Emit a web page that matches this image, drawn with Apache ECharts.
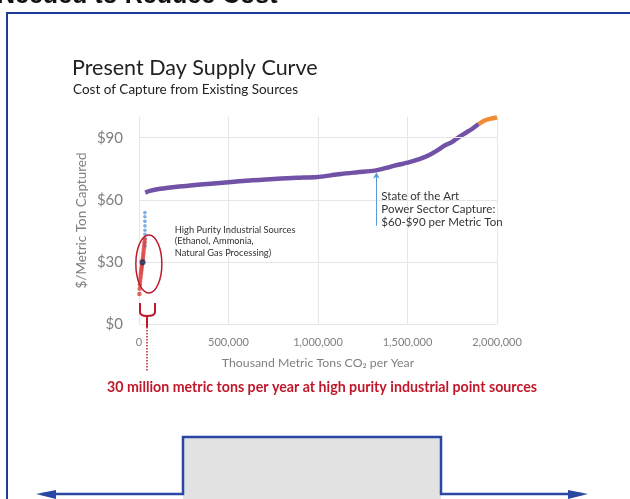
<!DOCTYPE html>
<html>
<head>
<meta charset="utf-8">
<script src="https://cdn.jsdelivr.net/npm/echarts@6/dist/echarts.min.js"></script>
<style>
html,body{margin:0;padding:0;background:#fff;}
#c{width:630px;height:499px;}
</style>
</head>
<body>
<div id="c"></div>
<script>
// ---- data ----
const yTicks = [0, 30, 60, 90];
const xTicks = [0, 500000, 1000000, 1500000, 2000000];

// Power sector supply curve (purple)
const powerX = [35000, 60000, 118000, 200000, 286000, 400000, 500000, 620000, 754000, 880000, 998000, 1070000, 1129000, 1220000, 1316000, 1380000, 1427000, 1511000, 1570000, 1616000, 1660000, 1708000, 1750000, 1785000, 1830000, 1860000, 1897000];
const powerY = [63.5, 64.3, 65.3, 66.2, 66.9, 67.8, 68.5, 69.3, 70.1, 70.6, 71.0, 71.8, 72.5, 73.3, 74.1, 75.4, 76.5, 78.2, 79.8, 81.4, 83.5, 86.2, 88.0, 90.2, 92.6, 94.2, 96.6];

// Highest cost tail (orange)
const tailX = [1897000, 1930000, 1960000, 2000000];
const tailY = [96.6, 98.3, 99.1, 99.8];

// High purity industrial sources (red)
const industrialX = [2000, 3500, 5000, 6500, 8000, 9500, 11000, 12500, 14000, 15500, 17000, 18500, 20000, 21500, 23000, 24500, 26000, 27500, 29000, 30500, 32000];
const industrialY = [14.5, 17, 19, 20.5, 22, 23.3, 24.5, 25.6, 26.6, 27.6, 28.6, 29.6, 30.6, 31.7, 32.8, 34, 35.3, 36.6, 38, 39.4, 40.8];

// Other high purity sources (light blue)
const otherX = [33000, 33000, 33000, 33000, 33000, 33000, 33000, 33000, 33000];
const otherY = [53.8, 51.8, 49.6, 47.4, 45.3, 43.3, 41.4, 39.4, 37.6];

// Highlighted source (dark navy)
const highlightX = [20000];
const highlightY = [29.8];

// annotation anchors (data coordinates)
const arrowX = 1326000, arrowFrom = 47.5, arrowTo = 73.2;
const powerNote = ['State of the Art', 'Power Sector Capture:', '$60-$90 per Metric Ton'];
const powerNoteAt = [1354000, 65];
const industryNote = ['High Purity Industrial Sources', '(Ethanol, Ammonia,', 'Natural Gas Processing)'];
const industryNoteAt = [200000, 48];
const ellipseAt = [55000, 29];

const zip = (a, b) => a.map((v, i) => [v, b[i]]);
const FONT = 'Lato';

const chart = echarts.init(document.getElementById('c'), null, {renderer: 'canvas'});

const option = {
  animation: false,
  backgroundColor: '#ffffff',
  textStyle: {fontFamily: FONT},
  title: [
    {text: 'Present Day Supply Curve', left: 67, top: 52, padding: 5,
     textStyle: {fontFamily: FONT, fontSize: 21.5, fontWeight: 'normal', color: '#222'}},
    {text: 'Cost of Capture from Existing Sources', left: 68, top: 78, padding: 5,
     textStyle: {fontFamily: FONT, fontSize: 13.5, fontWeight: 'normal', color: '#222'}}
  ],
  grid: {left: 139, right: 133, top: 117, bottom: 175, containLabel: false},
  xAxis: {
    type: 'value', min: 0, max: 2000000, interval: 500000,
    name: 'Thousand Metric Tons CO\u2082 per Year', nameLocation: 'middle', nameGap: 33,
    nameMoveOverlap: false,
    nameTextStyle: {fontFamily: FONT, fontSize: 12.3, color: '#7f7f7f'},
    axisLine: {show: false}, axisTick: {show: false},
    axisLabel: {margin: 13, fontFamily: FONT, fontSize: 11, color: '#7f7f7f',
      formatter: v => xTicks.includes(v) ? v.toLocaleString('en-US') : ''},
    splitLine: {show: true, lineStyle: {color: '#e6e6e6', width: 1}}
  },
  yAxis: {
    type: 'value', min: 0, max: 100, interval: 30,
    name: '$/Metric Ton Captured', nameLocation: 'middle', nameGap: 50,
    nameMoveOverlap: false,
    nameTextStyle: {fontFamily: FONT, fontSize: 13.5, color: '#7f7f7f'},
    axisLine: {show: false}, axisTick: {show: false},
    axisLabel: {margin: 16, fontFamily: FONT, fontSize: 15, color: '#7f7f7f',
      formatter: v => yTicks.includes(v) ? '$' + v : ''},
    splitLine: {show: false}
  },
  series: [
    {type: 'line', data: [], silent: true, z: 0,
     markLine: {silent: true, symbol: 'none', label: {show: false},
       lineStyle: {color: '#e6e6e6', width: 1, type: 'solid'},
       data: yTicks.map(v => ({yAxis: v}))}},
    {type: 'line', data: zip(powerX, powerY), showSymbol: false, smooth: 0.3,
     lineStyle: {color: '#7152a6', width: 4.5}, z: 3},
    {type: 'line', data: zip(tailX, tailY), showSymbol: false, smooth: 0.3,
     lineStyle: {color: '#f08c35', width: 4.5}, z: 3},
    {type: 'scatter', data: zip(otherX, otherY), symbolSize: 3.6,
     itemStyle: {color: '#5b9bd5'}, z: 3,
     markLine: {silent: true, symbol: ['none', 'arrow'], symbolSize: [5, 6], label: {show: false},
       lineStyle: {color: '#5b9bd5', width: 1, type: 'solid'},
       data: [[{coord: [arrowX, arrowFrom]}, {coord: [arrowX, arrowTo]}]]}},
    {type: 'scatter', data: zip(industrialX, industrialY), symbolSize: 4.5,
     itemStyle: {color: '#d9413e'}, z: 4},
    {type: 'scatter', data: zip(highlightX, highlightY), symbolSize: 6,
     itemStyle: {color: '#1f2a5a'}, z: 5}
  ]
};
chart.setOption(option);

const px = (x, y) => chart.convertToPixel({gridIndex: 0}, [x, y]);
const o = px(0, 0);
const pn = px(powerNoteAt[0], powerNoteAt[1]);
const inn = px(industryNoteAt[0], industryNoteAt[1]);
const el = px(ellipseAt[0], ellipseAt[1]);
const RED = '#c0182a';
const BLUE = '#1f3c99';
const bx = o[0] + 8, by = o[1];

const graphic = [
  // top heading (cut off)
  {type: 'text', x: -3, y: 9, z: 10,
   style: {text: 'Needed to Reduce Cost', fontFamily: 'Liberation Sans', fontWeight: 'bold', fontSize: 25, fill: '#111',
           textAlign: 'left', textVerticalAlign: 'bottom'}},
  // frame
  {type: 'rect', shape: {x: 7, y: 13, width: 660, height: 520}, z: -10,
   style: {fill: '#ffffff', stroke: BLUE, lineWidth: 2}},
  // bottom shape
  {type: 'rect', shape: {x: 183, y: 437, width: 258, height: 70}, z: 1,
   style: {fill: '#e2e2e2', stroke: null}},
  {type: 'polyline', shape: {points: [[42, 494], [183, 494], [183, 437], [441, 437], [441, 494], [582, 494]]}, z: 2,
   style: {stroke: '#2a47a3', lineWidth: 2.5, fill: null}},
  {type: 'polygon', shape: {points: [[36, 494], [56, 490], [56, 499]]}, z: 2, style: {fill: '#2a47a3'}},
  {type: 'polygon', shape: {points: [[588, 494], [568, 490], [568, 499]]}, z: 2, style: {fill: '#2a47a3'}},
  // power note
  {type: 'text', x: pn[0], y: pn[1], z: 10,
   style: {text: powerNote.join('\n'), fontFamily: FONT, fontSize: 11.5, lineHeight: 13.3, fill: '#333',
           textAlign: 'left', textVerticalAlign: 'top'}},
  // industry note
  {type: 'text', x: inn[0], y: inn[1], z: 10,
   style: {text: industryNote.join('\n'), fontFamily: FONT, fontSize: 9.3, lineHeight: 11.2, fill: '#333',
           textAlign: 'left', textVerticalAlign: 'top'}},
  // ellipse
  {type: 'ellipse', shape: {cx: el[0], cy: el[1], rx: 13, ry: 29}, z: 6,
   style: {fill: null, stroke: RED, lineWidth: 1.5}},
  // bracket
  {type: 'polyline', z: 6, shape: {points: [[bx - 7, by - 21], [bx - 7, by - 12]]}, style: {stroke: RED, lineWidth: 2, fill: null}},
  {type: 'polyline', z: 6, shape: {points: [[bx + 8, by - 21], [bx + 8, by - 12]]}, style: {stroke: RED, lineWidth: 2, fill: null}},
  {type: 'bezierCurve', z: 6, shape: {x1: bx - 7, y1: by - 12, x2: bx, y2: by - 8, cpx1: bx - 7, cpy1: by - 8}, style: {stroke: RED, lineWidth: 2, fill: null}},
  {type: 'bezierCurve', z: 6, shape: {x1: bx + 8, y1: by - 12, x2: bx, y2: by - 8, cpx1: bx + 8, cpy1: by - 8}, style: {stroke: RED, lineWidth: 2, fill: null}},
  {type: 'line', z: 6, shape: {x1: bx, y1: by - 8, x2: bx, y2: by + 3}, style: {stroke: RED, lineWidth: 2}},
  {type: 'line', z: 6, shape: {x1: bx, y1: by + 3, x2: bx, y2: by + 48},
   style: {stroke: RED, lineWidth: 1.5, lineDash: [1.5, 1.5]}},
  // red caption
  {type: 'text', x: 322, y: 387, z: 10,
   style: {text: '30 million metric tons per year at high purity industrial point sources',
           fontFamily: FONT, fontWeight: 'bold', fontSize: 14.2, fill: RED,
           textAlign: 'center', textVerticalAlign: 'middle'}}
];
chart.setOption({graphic: graphic});
</script>
</body>
</html>
